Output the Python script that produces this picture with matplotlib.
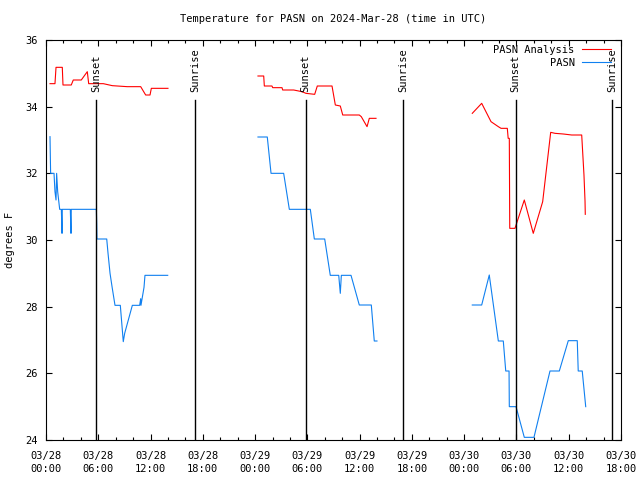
import matplotlib
matplotlib.use("Agg")
import matplotlib.pyplot as plt
import matplotlib.dates as mdates
import numpy as np
import pandas as pd

nan = float("nan")
base = pd.Timestamp("2024-03-28 00:00")

# hours after 03/28 00:00 UTC, NaN = gap between days
analysis_hours = [0.46, 1.03, 1.15, 1.87, 1.95, 2.90, 3.13, 4.05, 4.74, 4.90, 6.58, 7.61, 9.33, 10.87, 11.44, 11.94, 12.09, 14.0,
                  nan,
                  24.33, 24.99, 25.06, 25.94, 26.02, 27.09, 27.17, 28.43, 29.38, 29.84, 30.84, 31.14, 32.83, 33.21, 33.78, 34.06,
                  35.96, 36.19, 36.85, 37.11, 37.88,
                  nan,
                  48.93, 50.01, 51.08, 51.92, 52.23, 52.95, 53.05, 53.18, 53.23, 53.83, 54.90, 55.93, 57.01, 57.93, 58.43, 59.38,
                  60.34, 61.49, 61.75, 61.87, 61.90]
analysis_temp = [34.69, 34.69, 35.18, 35.18, 34.65, 34.65, 34.80, 34.80, 35.05, 34.69, 34.69, 34.63, 34.60, 34.60, 34.35, 34.35, 34.55, 34.55,
                 nan,
                 34.92, 34.92, 34.62, 34.62, 34.57, 34.57, 34.50, 34.50, 34.45, 34.40, 34.37, 34.62, 34.62, 34.05, 34.02, 33.75,
                 33.75, 33.70, 33.40, 33.65, 33.65,
                 nan,
                 33.80, 34.10, 33.55, 33.40, 33.35, 33.35, 33.05, 33.05, 30.35, 30.35, 31.20, 30.20, 31.15, 33.23, 33.20, 33.18,
                 33.15, 33.15, 31.95, 31.17, 30.77]

obs_hours = [0.46, 0.53, 0.92, 1.03, 1.15, 1.22, 1.34, 1.57, 1.76, 1.84, 1.87, 2.79, 2.87, 2.90, 5.78, 5.82, 5.85, 6.97,
             7.12, 7.35, 7.58, 7.92, 8.53, 8.87, 9.03, 9.91, 10.75, 10.87, 10.90, 11.25, 11.36, 13.97,
             nan,
             24.33, 25.40, 25.83, 27.28, 27.93, 30.34, 30.80, 31.99, 32.63, 33.60, 33.78, 33.90, 35.01, 35.96, 37.34, 37.68, 37.99,
             nan,
             48.93, 50.01, 50.88, 51.92, 52.49, 52.77, 53.15, 53.18, 53.95, 54.90, 56.01, 57.85, 58.92, 59.95, 60.98, 61.09,
             61.55, 61.95]
obs_temp = [33.1, 32.0, 32.0, 31.45, 31.2, 32.0, 31.45, 30.92, 30.92, 30.2, 30.92, 30.92, 30.2, 30.92, 30.92, 30.5, 30.03, 30.03,
            29.6, 29.0, 28.6, 28.04, 28.04, 26.95, 27.2, 28.04, 28.04, 28.24, 28.04, 28.58, 28.94, 28.94,
            nan,
            33.09, 33.09, 32.0, 32.0, 30.92, 30.92, 30.03, 30.03, 28.94, 28.94, 28.4, 28.94, 28.94, 28.05, 28.05, 26.97, 26.97,
            nan,
            28.05, 28.05, 28.95, 26.97, 26.97, 26.07, 26.07, 25.0, 25.0, 24.08, 24.08, 26.07, 26.07, 26.98, 26.98, 26.07,
            26.07, 25.0]

sun_events = ["Sunset", "Sunrise", "Sunset", "Sunrise", "Sunset", "Sunrise"]
sun_times = ["2024-03-28 05:47", "2024-03-28 17:08", "2024-03-29 05:48",
             "2024-03-29 17:01", "2024-03-30 05:54", "2024-03-30 17:00"]

y_ticks = [24, 26, 28, 30, 32, 34, 36]

base_num = mdates.date2num(base.to_pydatetime())


def to_num(hours):
    # matplotlib date numbers, NaN stays NaN so the line breaks
    return base_num + np.array(hours, dtype=float) / 24.0


font = "DejaVu Sans Mono"
plt.rcParams["font.family"] = font
plt.rcParams["font.size"] = 7.5

fig = plt.figure(figsize=(6.4, 4.8), dpi=100)
ax = fig.add_axes([46 / 640, 40 / 480, 575 / 640, 400 / 480])

ax.plot(to_num(analysis_hours), analysis_temp, color="#ff0000", lw=0.8, label="PASN Analysis")
ax.plot(to_num(obs_hours), obs_temp, color="#1080f0", lw=0.8, label="PASN")

trans = ax.get_xaxis_transform()
for name, t in zip(sun_events, sun_times):
    t = mdates.date2num(pd.Timestamp(t).to_pydatetime())
    ax.axvline(t, ymin=0, ymax=0.85, color="black", lw=1.0)
    ax.text(t, 0.87, name, rotation=90, transform=trans, ha="center", va="bottom")

ax.set_ylim(24, 36)
ax.set_yticks(y_ticks)
ax.set_xlim(base_num, base_num + 66 / 24.0)
major = pd.date_range(base, periods=12, freq="6h")
ax.set_xticks([mdates.date2num(t.to_pydatetime()) for t in major])
ax.set_xticklabels([t.strftime("%m/%d\n%H:%M") for t in major], linespacing=1.4)
ax.xaxis.set_minor_locator(mdates.HourLocator(interval=2))

ax.tick_params(which="both", direction="in", top=True, right=True, width=0.8)
ax.tick_params(which="major", length=4)
ax.tick_params(which="minor", length=2)
ax.tick_params(axis="x", pad=8)
ax.tick_params(axis="y", pad=6)
for s in ax.spines.values():
    s.set_linewidth(0.8)

ax.set_ylabel("degrees F", labelpad=7)
ax.set_title("Temperature for PASN on 2024-Mar-28 (time in UTC)", pad=13, fontsize=7.5)

ax.legend(loc="upper right", bbox_to_anchor=(1 - 10 / 575, 1 - 5 / 400), frameon=False,
          markerfirst=False, borderaxespad=0, borderpad=0, handlelength=2.8,
          handletextpad=0.7, labelspacing=0.3)

fig.savefig("out.png", dpi=100)
